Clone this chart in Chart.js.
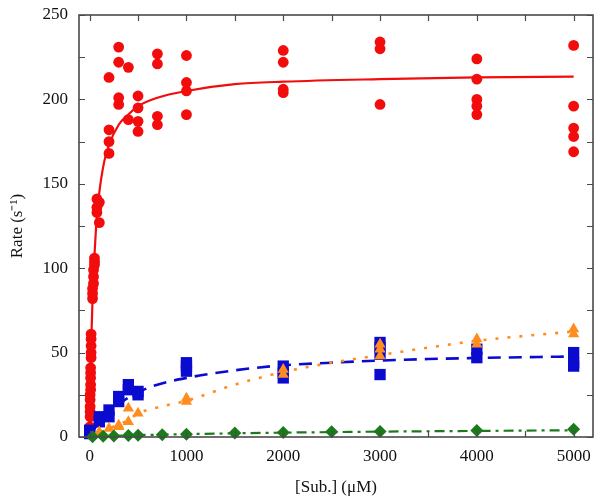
<!DOCTYPE html>
<html>
<head>
<meta charset="utf-8">
<script src="https://cdn.jsdelivr.net/npm/chart.js@4/dist/chart.umd.min.js"></script>
<style>
html,body{margin:0;padding:0;background:#fff;}
#wrap{width:601px;height:502px;}
</style>
</head>
<body>
<div id="wrap"><canvas id="c" width="601" height="502"></canvas></div>
<script>
// ---- data ----
const xTickValues = [0,500,1000,1500,2000,2500,3000,3500,4000,4500,5000];
const yTickValues = [0,25,50,75,100,125,150,175,200,225,250];

const redConc  = [2, 5, 10, 15, 30, 40, 50, 75, 100, 200, 300, 400, 500, 700, 1000, 2000, 3000, 4000, 5000];
const redRates = [[3,6],[12,15,18,22,25],[28,31,35,38,41],[47,50,54,58,61],[82,85,88],[91,95,99],[102,104,106],
                  [133,136,141],[127,139],[168,175,182,213],[197,201,222,231],[188,219],[181,187,195,202],
                  [185,190,221,227],[191,205,210,226],[204,206,222,229],[197,230,234],[191,196,200,212,224],
                  [169,178,183,196,232]];
const redFitX = [0,5,10,15,20,30,40,50,60,75,100,150,200,300,400,500,700,1000,1500,2000,3000,4000,5000];
const redFitY = [0,20,37,51,63,82,97,108,118,131,145,163,173,185,191,196,201,205,209,210.5,212,213,213.5];

const blueConc  = [0, 100, 200, 300, 400, 500, 1000, 2000, 3000, 4000, 5000];
const blueRates = [[2,4],[9,12],[12,16],[21,24],[28,31],[25,27],[39,42,44],[35,38,42],[37,49,53,56],[47,52],[42,44,50]];
const blueFitX = [0,50,100,200,300,400,500,700,1000,1500,2000,2500,3000,3500,4000,4500,5000];
const blueFitY = [0,4.8,8.7,15,19.6,23.3,26.5,31,35,39.5,42.5,44,45.3,46.2,46.8,47.3,47.7];

const orangeConc  = [100, 200, 300, 400, 500, 1000, 2000, 3000, 4000, 5000];
const orangeRates = [[3],[5],[6,7],[9,17],[14],[21,23],[37,40],[48,52,55],[55,58],[61,64]];
const orangeFitX = [0,100,200,300,400,500,700,1000,1500,2000,2500,3000,3500,4000,4500,5000];
const orangeFitY = [0,2.5,5,7.5,10,14,17.5,21.5,31,38.5,44,48.5,53,57,59.9,62.5];

const greenConc = [30,140,250,400,500,750,1000,1500,2000,2500,3000,4000,5000];
const greenRate = [0.2,0.4,0.6,0.9,1.0,1.3,1.7,2.3,2.7,3.1,3.3,3.8,4.6];
const greenFitX = [0,250,500,1000,1500,2000,2500,3000,4000,5000];
const greenFitY = [0,0.7,1.1,1.7,2.2,2.6,2.9,3.2,3.6,4.0];

// ---- helpers to build point lists ----
function groupPoints(xs, groups){ const out=[]; xs.forEach((x,i)=>groups[i].forEach(y=>out.push({x:x,y:y}))); return out; }
function pairPoints(xs, ys){ return xs.map((x,i)=>({x:x,y:ys[i]})); }

const RED='#f20c0c', BLUE='#0b0bd0', ORANGE='#ff8c1f', GREEN='#1b7b1b', FRAME='#4a4a4a';
const FONT = "'Liberation Serif','Times New Roman',serif";

const framePlugin = {
  id:'frameTicks',
  afterDatasetsDraw(chart){
    const {ctx, chartArea:a, scales:{x,y}} = chart;
    ctx.save();
    ctx.strokeStyle = FRAME; ctx.lineWidth = 1.2;
    const L=6;
    ctx.beginPath();
    xTickValues.forEach(v=>{ const px=Math.round(x.getPixelForValue(v))+0.5;
      ctx.moveTo(px,a.bottom); ctx.lineTo(px,a.bottom-L);
      ctx.moveTo(px,a.top); ctx.lineTo(px,a.top+L); });
    yTickValues.forEach(v=>{ const py=Math.round(y.getPixelForValue(v))+0.5;
      ctx.moveTo(a.left,py); ctx.lineTo(a.left+L,py);
      ctx.moveTo(a.right,py); ctx.lineTo(a.right-L,py); });
    ctx.stroke();
    ctx.lineWidth = 1.6;
    ctx.strokeRect(a.left, a.top, a.right-a.left, a.bottom-a.top);
    ctx.restore();
  }
};

const lineBase = {type:'line', showLine:true, pointRadius:0, fill:false, cubicInterpolationMode:'monotone'};

new Chart(document.getElementById('c'), {
  type:'scatter',
  data:{ datasets:[
    {...lineBase, data:pairPoints(redFitX, redFitY), borderColor:RED, borderWidth:2.2, order:8},
    {...lineBase, data:pairPoints(blueFitX, blueFitY), borderColor:BLUE, borderWidth:2.6, borderDash:[13,8], order:7},
    {...lineBase, data:pairPoints(orangeFitX, orangeFitY), borderColor:ORANGE, borderWidth:2.6, borderDash:[3,9], order:6},
    {...lineBase, data:pairPoints(greenFitX, greenFitY), borderColor:GREEN, borderWidth:2.2, borderDash:[10,5,3,5], order:5},
    {data:groupPoints(redConc, redRates), pointStyle:'circle', pointRadius:5.4, backgroundColor:RED, borderColor:RED, borderWidth:0, clip:false, order:4},
    {data:groupPoints(blueConc, blueRates), pointStyle:'rect', pointRadius:8, backgroundColor:BLUE, borderColor:BLUE, borderWidth:0, clip:false, order:3},
    {data:groupPoints(orangeConc, orangeRates), pointStyle:'triangle', pointRadius:6.5, backgroundColor:ORANGE, borderColor:ORANGE, borderWidth:0, clip:false, order:2},
    {data:pairPoints(greenConc, greenRate), pointStyle:'rectRot', pointRadius:6.5, backgroundColor:GREEN, borderColor:GREEN, borderWidth:0, clip:false, order:1}
  ]},
  options:{
    responsive:false, animation:false, events:[],
    layout:{padding:{left:0,right:6,top:15,bottom:0}},
    plugins:{legend:{display:false}, tooltip:{enabled:false}},
    scales:{
      x:{ type:'linear', min:-110, max:5200,
        afterBuildTicks(s){ s.ticks = xTickValues.map(v=>({value:v})); },
        afterFit(s){ s.height = 65; s.paddingLeft = 0; s.paddingRight = 0; },
        grid:{display:false, drawTicks:false}, border:{display:false},
        ticks:{ padding:9, color:'#111', font:{family:FONT, size:17}, maxRotation:0, autoSkip:false,
          callback:(v)=> (v%1000===0 ? String(v) : '') },
        title:{display:true, text:'[Sub.] (μM)', color:'#111', font:{family:FONT, size:17}, padding:{top:0,bottom:4}}
      },
      y:{ type:'linear', min:0, max:250,
        afterBuildTicks(s){ s.ticks = yTickValues.map(v=>({value:v})); },
        afterFit(s){ s.width = 79; s.paddingTop = 0; s.paddingBottom = 0; },
        grid:{display:false, drawTicks:false}, border:{display:false},
        ticks:{ padding:11, color:'#111', font:{family:FONT, size:17}, autoSkip:false,
          callback:(v)=> (v%50===0 ? String(v) : '') },
        title:{display:true, text:'Rate (s⁻¹)', color:'#111', font:{family:FONT, size:17}, padding:{top:7,bottom:7}}
      }
    }
  },
  plugins:[framePlugin]
});
</script>
</body>
</html>
